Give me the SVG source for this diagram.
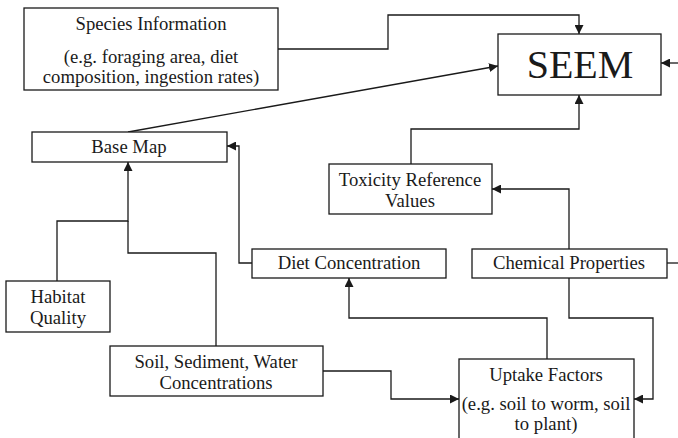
<svg xmlns="http://www.w3.org/2000/svg" width="678" height="438" viewBox="0 0 678 438">
  <style>
    .box { fill: #ffffff; stroke: #1a1a1a; stroke-width: 1.3; }
    .lbl { font-family: "Liberation Serif", "Times New Roman", serif; font-size: 18.7px; fill: #1a1a1a; text-anchor: middle; }
    .big { font-size: 40px; }
    .wire { fill: none; stroke: #1a1a1a; stroke-width: 1.3; }
  </style>
  <defs>
    <marker id="arrow" viewBox="0 0 10 10" refX="10" refY="5" markerWidth="9" markerHeight="9" markerUnits="userSpaceOnUse" orient="auto">
      <path d="M0,0 L10,5 L0,10 Z" fill="#1a1a1a"/>
    </marker>
  </defs>

  <rect width="678" height="438" fill="#ffffff"/>

  <g id="connectors">
    <!-- Species Information to SEEM -->
    <polyline class="wire" points="278,49 388,49 388,15 579,15 579,34" marker-end="url(#arrow)"/>
    <!-- Base Map to SEEM -->
    <polyline class="wire" points="128,132 498,66" marker-end="url(#arrow)"/>
    <!-- off-frame input to SEEM right side -->
    <polyline class="wire" points="678,63 661,63" marker-end="url(#arrow)"/>
    <!-- Toxicity Reference Values to SEEM -->
    <polyline class="wire" points="411,164 411,129 579,129 579,95" marker-end="url(#arrow)"/>
    <!-- Habitat Quality to Base Map -->
    <polyline class="wire" points="57,281 57,221 128,221 128,162" marker-end="url(#arrow)"/>
    <!-- Soil, Sediment, Water Concentrations to Base Map -->
    <polyline class="wire" points="216,346 216,253 128,253 128,221"/>
    <!-- Diet Concentration to Base Map -->
    <polyline class="wire" points="252,263 239,263 239,146 227,146" marker-end="url(#arrow)"/>
    <!-- Chemical Properties to Toxicity Reference Values -->
    <polyline class="wire" points="569,249 569,189 492,189" marker-end="url(#arrow)"/>
    <!-- Chemical Properties off-frame to the right -->
    <polyline class="wire" points="667,263 678,263"/>
    <!-- Chemical Properties to Uptake Factors -->
    <polyline class="wire" points="569,278 569,318 653,318 653,399 634,399" marker-end="url(#arrow)"/>
    <!-- Uptake Factors to Diet Concentration -->
    <polyline class="wire" points="547,359 547,318 349,318 349,278" marker-end="url(#arrow)"/>
    <!-- Soil, Sediment, Water Concentrations to Uptake Factors -->
    <polyline class="wire" points="323,371 391,371 391,399 459,399" marker-end="url(#arrow)"/>
  </g>

  <g id="species-information">
    <rect class="box" x="24" y="8" width="254" height="82"/>
    <text class="lbl" x="151" y="30">Species Information</text>
    <text class="lbl" x="151" y="63">(e.g. foraging area, diet</text>
    <text class="lbl" x="151" y="83">composition, ingestion rates)</text>
  </g>

  <g id="seem">
    <rect class="box" x="498" y="34" width="163" height="61"/>
    <text class="lbl big" x="580" y="78">SEEM</text>
  </g>

  <g id="base-map">
    <rect class="box" x="32" y="132" width="195" height="30"/>
    <text class="lbl" x="129" y="153">Base Map</text>
  </g>

  <g id="toxicity-reference-values">
    <rect class="box" x="329" y="164" width="163" height="50"/>
    <text class="lbl" x="410" y="186">Toxicity Reference</text>
    <text class="lbl" x="410" y="207">Values</text>
  </g>

  <g id="diet-concentration">
    <rect class="box" x="252" y="249" width="194" height="29"/>
    <text class="lbl" x="349" y="269">Diet Concentration</text>
  </g>

  <g id="chemical-properties">
    <rect class="box" x="472" y="249" width="195" height="29"/>
    <text class="lbl" x="569" y="269">Chemical Properties</text>
  </g>

  <g id="habitat-quality">
    <rect class="box" x="6" y="281" width="104" height="51"/>
    <text class="lbl" x="58" y="303">Habitat</text>
    <text class="lbl" x="58" y="324">Quality</text>
  </g>

  <g id="soil-sediment-water">
    <rect class="box" x="110" y="346" width="213" height="50"/>
    <text class="lbl" x="216" y="368">Soil, Sediment, Water</text>
    <text class="lbl" x="216" y="389">Concentrations</text>
  </g>

  <g id="uptake-factors">
    <rect class="box" x="459" y="359" width="175" height="90"/>
    <text class="lbl" x="546" y="381">Uptake Factors</text>
    <text class="lbl" x="546" y="410">(e.g. soil to worm, soil</text>
    <text class="lbl" x="546" y="430">to plant)</text>
  </g>
</svg>
